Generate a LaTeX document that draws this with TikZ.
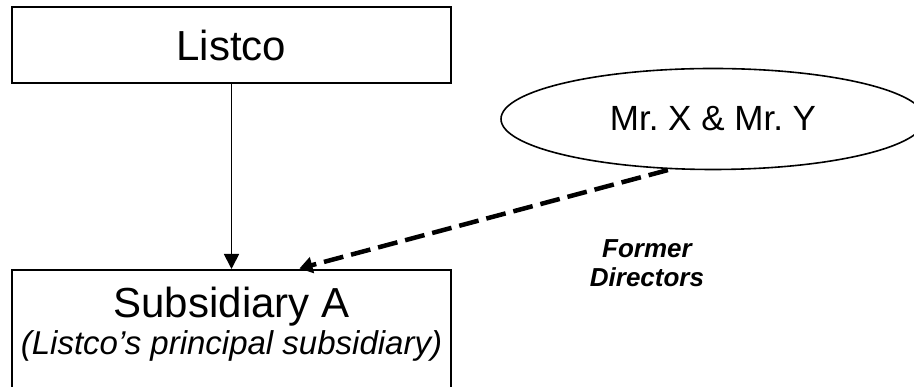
\documentclass[tikz,border=0pt]{standalone}
\usepackage{fontspec}
\setmainfont{Liberation Sans}
\usetikzlibrary{shapes.geometric,arrows.meta}

\begin{document}
\begin{tikzpicture}[x=1pt, y=1pt,
  every node/.style = {shape=rectangle,
    draw, align=center, inner sep=0pt},
  entity/.style = {line width=2pt, minimum width=439pt},
  owns/.style = {line width=1.8pt, -{Triangle[length=15pt,width=15pt]}},
  formerlink/.style = {line width=4.5pt, dash pattern=on 20pt off 8pt,
    shorten <=3pt, shorten >=2pt, -{Triangle[length=13pt,width=16pt]}}]

  \path[use as bounding box, clip] (0,0) rectangle (914,387);

  \node[entity, minimum height=76pt, font=\fontsize{42}{48}\selectfont] (listco)
    at (231.5,342) {Listco};
  \node[entity, anchor=north, inner ysep=17pt, text depth=45pt,
    font=\fontsize{42}{37}\selectfont] (sub) at (231.5,118)
    {Subsidiary A\\{\fontsize{33}{37}\selectfont\itshape (Listco’s principal subsidiary)}};
  \node[shape=ellipse, line width=1.6pt, minimum width=424pt, minimum height=101pt,
    font=\fontsize{35}{40}\selectfont] (mrxy) at (713,268) {Mr.\ X \& Mr.\ Y};
  \node[draw=none, font=\fontsize{26}{29}\selectfont\bfseries\itshape] (former)
    at (647,123.5) {Former\\Directors};

  \draw[owns] (listco) -- (sub);
  \draw[formerlink] (mrxy.230) -- ([xshift=66pt]sub.north);
\end{tikzpicture}
\end{document}
